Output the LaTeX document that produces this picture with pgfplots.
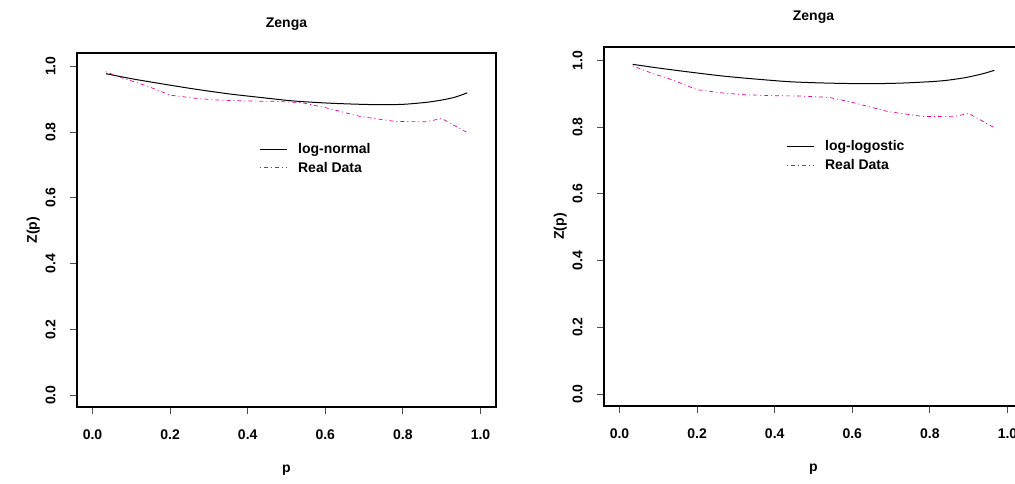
\documentclass[border=0pt]{standalone}
\usepackage{fontspec}
\setmainfont{Liberation Sans}
\usepackage{pgfplots}
\pgfplotsset{compat=1.18}

\pgfplotstableread{
p z
0.034 0.983
0.08 0.963
0.14 0.940
0.20 0.912
0.26 0.903
0.32 0.897
0.40 0.894
0.47 0.893
0.54 0.889
0.60 0.874
0.69 0.847
0.78 0.832
0.86 0.831
0.90 0.841
0.966 0.798
}\realdata

\pgfplotsset{
  zenga/.style={
    scale only axis,
    xmin=-0.04, xmax=1.04, ymin=-0.036, ymax=1.04,
    axis line style={line width=1.1pt},
    tick align=outside, major tick length=7pt,
    xtick pos=bottom, ytick pos=left,
    tick style={line width=0.9pt, black!70},
    xtick={0,0.2,0.4,0.6,0.8,1}, xticklabels={0.0,0.2,0.4,0.6,0.8,1.0},
    ytick={0,0.2,0.4,0.6,0.8,1}, yticklabels={0.0,0.2,0.4,0.6,0.8,1.0},
    ticklabel style={font=\fontsize{14}{16}\selectfont\bfseries},
    xticklabel style={yshift=-12pt},
    yticklabel style={rotate=90, anchor=south, yshift=11pt},
    xlabel={p}, ylabel={Z(p)},
    label style={font=\fontsize{14}{16}\selectfont\bfseries},
    xlabel style={yshift=-19pt},
    ylabel style={yshift=-1pt},
    title={Zenga},
    title style={font=\fontsize{14}{16}\selectfont\bfseries, yshift=13pt},
    legend style={draw=none, fill=none, anchor=north west,
      font=\fontsize{14}{16}\selectfont\bfseries, row sep=3pt},
    legend cell align=left,
    legend image code/.code={\draw[##1] (0pt,0pt) -- (27pt,0pt); \path (36pt,0pt);},
  }
}

\begin{document}
\begin{tikzpicture}[x=1pt,y=1pt]
\begin{axis}[zenga, at={(77pt,76pt)}, anchor=south west,
  width=419pt, height=354pt,
  legend style={at={(0.427,0.757)}}]
\addplot[black, line width=1pt, smooth] coordinates {
(0.035,0.977) (0.10,0.962) (0.175,0.947) (0.26,0.931) (0.35,0.916)
(0.44,0.904) (0.52,0.894) (0.62,0.887) (0.73,0.883) (0.80,0.884)
(0.86,0.890) (0.90,0.897) (0.935,0.906) (0.966,0.919)};
\addlegendentry{log-normal}
\addplot[magenta, line width=0.7pt, dash pattern=on 1pt off 3pt on 4pt off 3pt] table[x=p,y=z] {\realdata};
\addlegendentry{Real Data}
\end{axis}

\begin{axis}[zenga, at={(604pt,77pt)}, anchor=south west,
  width=419pt, height=359pt,
  title style={yshift=1pt},
  legend style={at={(0.427,0.751)}}]
\addplot[black, line width=1pt, smooth] coordinates {
(0.034,0.988) (0.10,0.977) (0.18,0.965) (0.266,0.953) (0.35,0.944)
(0.438,0.936) (0.53,0.932) (0.636,0.930) (0.73,0.932) (0.825,0.938)
(0.88,0.946) (0.911,0.953) (0.94,0.961) (0.966,0.970)};
\addlegendentry{log-logostic}
\addplot[magenta, line width=0.7pt, dash pattern=on 1pt off 3pt on 4pt off 3pt] table[x=p,y=z] {\realdata};
\addlegendentry{Real Data}
\end{axis}
\pgfresetboundingbox
\path[use as bounding box] (0,0) rectangle (1015pt,483pt);
\end{tikzpicture}
\end{document}
